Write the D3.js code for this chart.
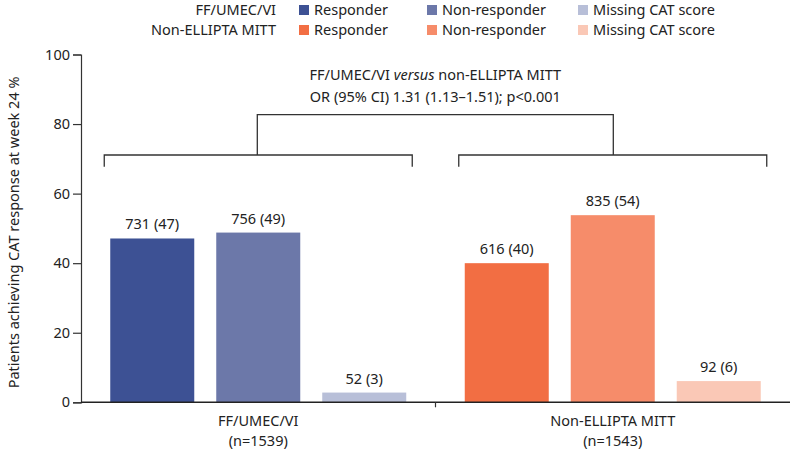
<!DOCTYPE html>
<html><head><meta charset="utf-8">
<script src="https://cdn.jsdelivr.net/npm/d3@7"></script>
<style>body{margin:0;background:#fff}svg{display:block;font-family:"Source Sans Pro","Noto Sans",sans-serif}</style>
</head><body><svg id="c" width="792" height="450"></svg>
<script>
const groups = ["FF/UMEC/VI", "Non-ELLIPTA MITT"];
const groupN = ["(n=1539)", "(n=1543)"];
const statuses = ["Responder", "Non-responder", "Missing CAT score"];
const ffValues = [47.1, 48.8, 2.8];
const nonValues = [40.0, 53.8, 6.1];
const ffLabels = ["731 (47)", "756 (49)", "52 (3)"];
const nonLabels = ["616 (40)", "835 (54)", "92 (6)"];
const ffColors = ["#3d5194", "#6c78a9", "#b8bfd8"];
const nonColors = ["#f26e43", "#f68c6a", "#fac8b6"];
const yTicks = [0, 20, 40, 60, 80, 100];
const yTitle = "Patients achieving CAT response at week 24 %";
const cmpLine1 = ["FF/UMEC/VI ", "versus", " non-ELLIPTA MITT"];
const cmpLine2 = "OR (95% CI) 1.31 (1.13\u20131.51); p<0.001";

const values = [ffValues, nonValues];
const labels = [ffLabels, nonLabels];
const colors = [ffColors, nonColors];

const svg = d3.select("#c");
const FS = 14.5;
const mLeft = 81, mRight = 790, mBottom = 402.3, mTop = 54.5;

const y = d3.scaleLinear().domain([0, 100]).range([mBottom, mTop]);
const x0 = d3.scaleBand().domain(groups).range([mLeft, mRight]);
const x1 = d3.scaleBand().domain(statuses).range([0, x0.bandwidth()]).paddingInner(0.2075).paddingOuter(0.276);

// legend
const legX = [299, 427, 578];
groups.forEach((g, gi) => {
  const cy = 10 + gi * 20;
  svg.append("text").attr("x", 276).attr("y", cy).attr("dy", "0.35em")
    .attr("text-anchor", "end").attr("font-size", FS).attr("fill", "#222").text(g);
  statuses.forEach((s, si) => {
    svg.append("rect").attr("x", legX[si]).attr("y", cy - 5).attr("width", 10).attr("height", 10).attr("fill", colors[gi][si]);
    svg.append("text").attr("x", legX[si] + 15).attr("y", cy).attr("dy", "0.35em")
      .attr("font-size", FS).attr("fill", "#222").text(s);
  });
});

// y axis
const ya = svg.append("g").attr("transform", `translate(${mLeft},0)`)
  .call(d3.axisLeft(y).tickValues(yTicks).tickSize(8).tickPadding(3));
ya.select(".domain").attr("stroke", "#333").attr("stroke-width", 1.2);
ya.selectAll(".tick line").attr("stroke", "#333").attr("stroke-width", 1.2);
ya.selectAll("text").attr("font-size", FS).attr("fill", "#222");
ya.attr("font-family", null);

svg.append("text").attr("transform", `translate(14,${(mTop + mBottom) / 2 + 4}) rotate(-90)`)
  .attr("text-anchor", "middle").attr("dy", "0.35em").attr("font-size", FS).attr("fill", "#222").text(yTitle);

// bars
groups.forEach((g, gi) => {
  const gx = x0(g);
  statuses.forEach((s, si) => {
    const v = values[gi][si];
    const bx = gx + x1(s);
    svg.append("rect").attr("x", bx).attr("y", y(v)).attr("width", x1.bandwidth())
      .attr("height", y(0) - y(v)).attr("fill", colors[gi][si]);
    svg.append("text").attr("x", bx + x1.bandwidth() / 2).attr("y", y(v) - 9)
      .attr("text-anchor", "middle").attr("font-size", FS).attr("fill", "#222").text(labels[gi][si]);
  });
  const cx = gx + x0.bandwidth() / 2;
  svg.append("text").attr("x", cx).attr("y", 426).attr("text-anchor", "middle").attr("font-size", FS).attr("fill", "#222").text(g);
  svg.append("text").attr("x", cx).attr("y", 446).attr("text-anchor", "middle").attr("font-size", FS).attr("fill", "#222").text(groupN[gi]);
});

// x axis
svg.append("line").attr("x1", mLeft).attr("x2", mRight).attr("y1", mBottom).attr("y2", mBottom).attr("stroke", "#222").attr("stroke-width", 1.5);
const mid = x0(groups[1]);
svg.append("line").attr("x1", mid).attr("x2", mid).attr("y1", mBottom).attr("y2", mBottom + 5).attr("stroke", "#333").attr("stroke-width", 1.2);

// brackets
const bY = 155, bDrop = 166.7, tY = 114.7;
const brk = svg.append("g").attr("fill", "none").attr("stroke", "#333").attr("stroke-width", 1.3);
const bEnds = groups.map(g => [x0(g) + x1(statuses[0]) - 6, x0(g) + x1(statuses[2]) + x1.bandwidth() + 6]);
const bMids = [257.3, 613.3];
bEnds.forEach(([a, b]) => {
  brk.append("path").attr("d", `M${a},${bDrop}V${bY}H${b}V${bDrop}`);
});
brk.append("path").attr("d", `M${bMids[0]},${bY}V${tY}H${bMids[1]}V${bY}`);

const cmpX = (bMids[0] + bMids[1]) / 2;
const t1 = svg.append("text").attr("x", cmpX).attr("y", 80).attr("text-anchor", "middle").attr("font-size", FS).attr("fill", "#222");
cmpLine1.forEach((s, i) => t1.append("tspan").attr("font-style", i === 1 ? "italic" : null).text(s));
svg.append("text").attr("x", cmpX).attr("y", 102).attr("text-anchor", "middle").attr("font-size", FS).attr("fill", "#222").text(cmpLine2);
</script></body></html>
